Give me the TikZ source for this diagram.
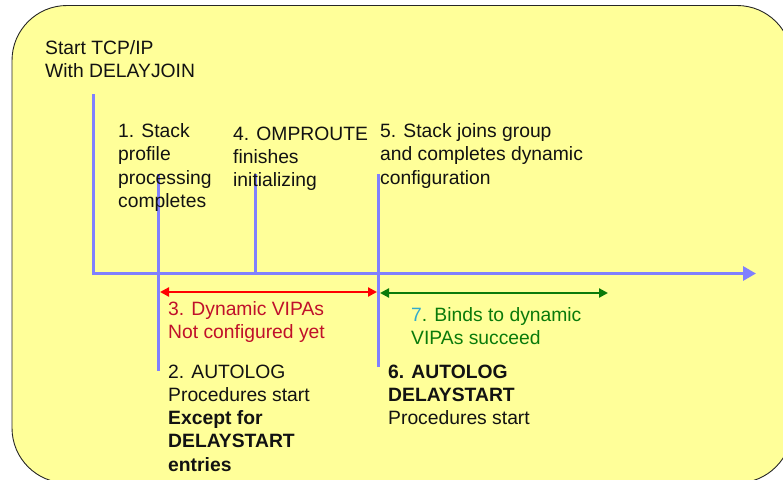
\documentclass[tikz,border=0pt]{standalone}
\usepackage{fontspec}
\setmainfont{Liberation Sans}
\usetikzlibrary{arrows.meta}
\definecolor{panel}{HTML}{FFFF99}
\definecolor{tick}{HTML}{8080FF}
\definecolor{warnred}{HTML}{C0102A}
\definecolor{okgreen}{HTML}{0A7A0A}
\definecolor{stepcyan}{HTML}{33AACC}
% multi-line labels are anchored at the baseline of their last line
\tikzset{
  label/.style={anchor=base west, inner sep=0pt, align=left,
    font=\fontsize{19.3}{23.2}\selectfont, text=black!93},
  marker/.style={draw=tick, line width=3pt},
  span/.style={line width=2.2pt, {Triangle[length=9pt,width=9pt]}-{Triangle[length=9pt,width=9pt]}}
}
\begin{document}
\begin{tikzpicture}[x=1pt,y=-1pt]
\useasboundingbox (0,0) rectangle (783,479);
% background panel
\draw[fill=panel, draw=black!85, line width=0.9pt, rounded corners=55pt]
  (12,5.5) rectangle (792,483);

% timeline axis
\coordinate (t0) at (93,94);
\coordinate (corner) at (93,273.5);
\coordinate (tend) at (756,273.5);
\draw[marker, -{Triangle[length=13pt,width=14pt]}] (t0) -- (corner) -- (tend);

% event markers
\coordinate (m1top) at (158.5,174);
\coordinate (m1bot) at (158.5,371);
\coordinate (m4top) at (255.5,174);
\coordinate (m4bot) at (255.5,273.5);
\coordinate (m5top) at (378,174);
\coordinate (m5bot) at (378,367);
\draw[marker] (m1top) -- (m1bot);
\draw[marker] (m4top) -- (m4bot);
\draw[marker] (m5top) -- (m5bot);

% intervals
\coordinate (r0) at (160,292);
\coordinate (r1) at (377,292);
\coordinate (g0) at (380,293);
\coordinate (g1) at (608,293);
\draw[span, draw=red, fill=red] (r0) -- (r1);
\draw[span, draw=okgreen, fill=okgreen] (g0) -- (g1);

% labels
\node[label] (start) at (45,77.2) {Start TCP/IP\\With DELAYJOIN};
\node[label] (s1) at (118,207.3) {1. Stack\\profile\\processing\\completes};
\node[label] (s4) at (233,186.4) {4. OMPROUTE\\finishes\\initializing};
\node[label] (s5) at (380,184.1) {5. Stack joins group\\and completes dynamic\\configuration};
\node[label, text=warnred] (s3) at (168,338.2) {3. Dynamic VIPAs\\Not configured yet};
\node[label, text=okgreen] (s7) at (411,344.9) {\textcolor{stepcyan}{7}. Binds to dynamic\\VIPAs succeed};
\node[label] (s2) at (168,471.1) {2. AUTOLOG\\Procedures start\\\textbf{Except for}\\\textbf{DELAYSTART}\\\textbf{entries}};
\node[label] (s6) at (388,424.7) {\textbf{6. AUTOLOG}\\\textbf{DELAYSTART}\\Procedures start};
\end{tikzpicture}
\end{document}
